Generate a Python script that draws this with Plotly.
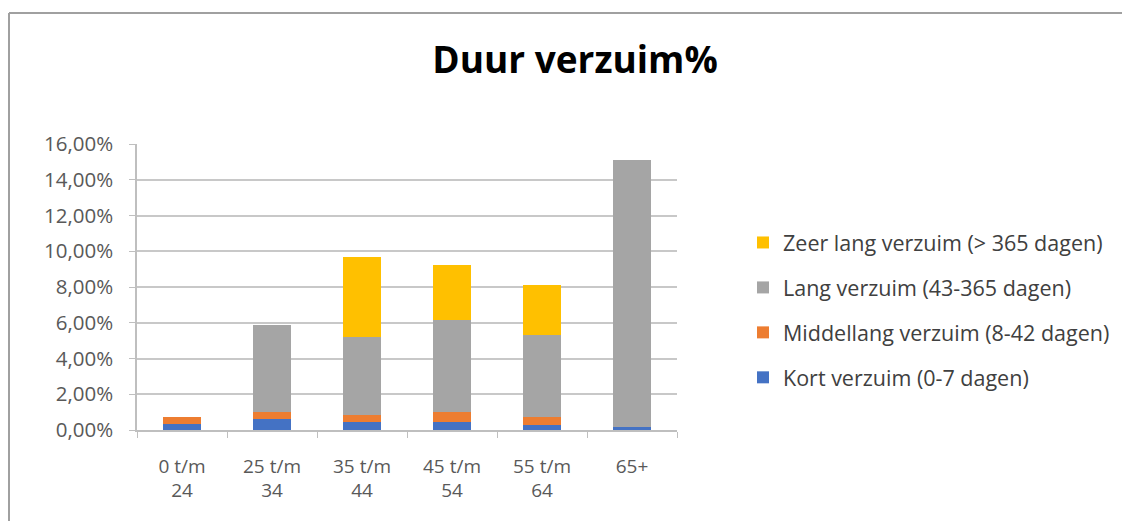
import plotly.graph_objects as go

categories = ["0 t/m<br>24", "25 t/m<br>34", "35 t/m<br>44", "45 t/m<br>54", "55 t/m<br>64", "65+"]
kort = [0.0035, 0.0060, 0.0046, 0.0046, 0.0028, 0.0018]
middellang = [0.0040, 0.0042, 0.0037, 0.0056, 0.0046, 0.0]
lang = [0.0, 0.0485, 0.0437, 0.0512, 0.0457, 0.1494]
zeer_lang = [0.0, 0.0, 0.0447, 0.0307, 0.0280, 0.0]

series = [
    ("Kort verzuim (0-7 dagen)", kort, "#4472C4"),
    ("Middellang verzuim (8-42 dagen)", middellang, "#ED7D31"),
    ("Lang verzuim (43-365 dagen)", lang, "#A5A5A5"),
    ("Zeer lang verzuim (> 365 dagen)", zeer_lang, "#FFC000"),
]

fig = go.Figure()
n = len(series)
for i, (name, vals, color) in enumerate(series):
    fig.add_trace(go.Bar(
        x=categories, y=vals, name=name, legendgroup=f"g{i}", legendrank=n - i,
        marker=dict(color=color, line=dict(width=0)),
        hovertemplate="%{x}: %{y:.2%}<extra>" + name + "</extra>",
    ))

W, H = 1130, 521
OFF = 8  # page body margin
L, R, T, B = 137 - OFF, 677 - OFF, 144 - OFF, 430 - OFF
FONT = "'Open Sans', Lato, sans-serif"
fig.update_layout(
    width=W, height=H,
    barmode="stack", bargap=0.58,
    separators=",.",
    paper_bgcolor="white", plot_bgcolor="white",
    margin=dict(l=L, r=W - R, t=T, b=H - B, autoexpand=False),
    font=dict(family=FONT, color="#595959", size=19),
    title=dict(text="<b>Duur verzuim%</b>", x=(575 - OFF) / W, xanchor="center",
               y=1 - (60 - OFF) / H, yanchor="middle",
               font=dict(size=37, color="#000000", family=FONT)),
    legend=dict(x=(743 - OFF - L) / (R - L), xanchor="left",
                y=(B - (222 - OFF)) / (B - T), yanchor="top",
                traceorder="grouped", tracegroupgap=14,
                font=dict(size=21.5, color="#404040", family=FONT), itemwidth=30,
                bgcolor="rgba(0,0,0,0)"),
    xaxis=dict(showline=True, linecolor="#BFBFBF", linewidth=1.5,
               ticks="outside", ticklen=6, tickcolor="#BFBFBF",
               showgrid=False, tickson="boundaries",
               tickfont=dict(size=19, color="#595959"), ticklabelstandoff=18),
    yaxis=dict(range=[0, 0.16], dtick=0.02, tickformat=".2%",
               showline=True, linecolor="#BFBFBF", linewidth=1.5,
               ticks="outside", ticklen=6, tickcolor="#BFBFBF",
               showgrid=True, gridcolor="#C8C8C8", gridwidth=1.5,
               zeroline=False,
               tickfont=dict(size=20.5, color="#595959"), ticklabelstandoff=12),
    showlegend=True,
)

# chart-area border (left and top edges visible in the reference)
px_x = lambda p: (p - L) / (R - L)
px_y = lambda p: (B - p) / (B - T)
fig.add_shape(type="line", xref="paper", yref="paper",
              x0=px_x(9 - OFF), x1=px_x(9 - OFF), y0=px_y(13 - OFF), y1=px_y(560),
              line=dict(color="#A0A0A0", width=2))
fig.add_shape(type="line", xref="paper", yref="paper",
              x0=px_x(9 - OFF), x1=px_x(1200), y0=px_y(13 - OFF), y1=px_y(13 - OFF),
              line=dict(color="#A0A0A0", width=2))

fig.write_html("out.html")
